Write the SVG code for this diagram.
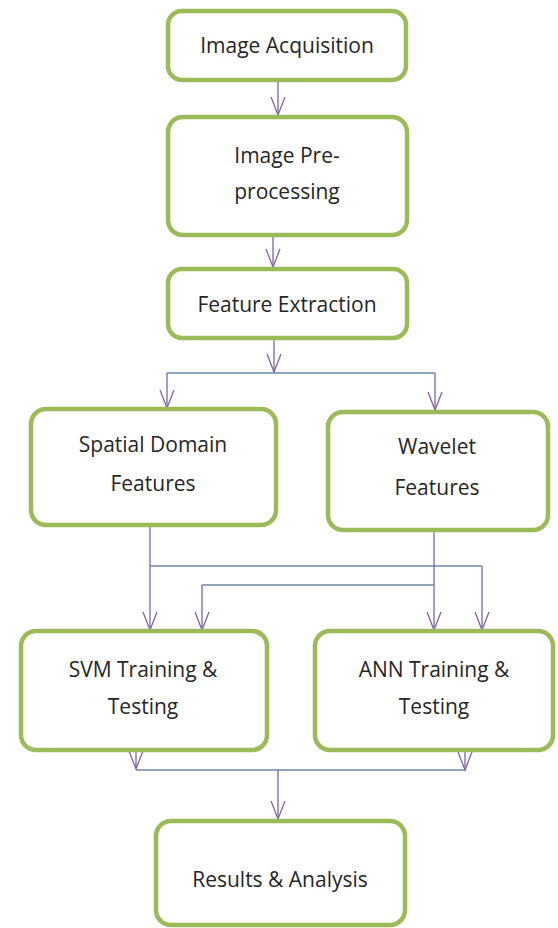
<svg xmlns="http://www.w3.org/2000/svg" width="558" height="928" viewBox="0 0 558 928">
  <style>
    .box { fill: #ffffff; stroke: #9bbb59; stroke-width: 4.5; }
    .lbl { font-family: "Open Sans", "Liberation Sans", sans-serif; font-size: 21px; fill: #262626; text-anchor: middle; }
    .v { stroke: #8064a2; stroke-width: 1.3; fill: none; }
    .h { stroke: #6f86a8; stroke-width: 1.3; fill: none; }
  </style>
  <defs>
    <!-- open "vee" arrowhead, drawn along +x so orient="auto" points it down the line -->
    <marker id="vee" viewBox="0 0 20 16" refX="19" refY="8" markerWidth="20" markerHeight="16" markerUnits="userSpaceOnUse" orient="auto">
      <path d="M1 1 L19 8 L1 15" fill="none" stroke="#8064a2" stroke-width="1.3"/>
    </marker>
  </defs>
  <rect width="558" height="928" fill="#ffffff"/>

  <g id="connectors">
    <line class="v" x1="278" y1="80" x2="278" y2="115" marker-end="url(#vee)"/>
    <line class="v" x1="273" y1="235" x2="273" y2="267" marker-end="url(#vee)"/>
    <line class="v" x1="274" y1="338" x2="274" y2="372" marker-end="url(#vee)"/>
    <line class="h" x1="167" y1="373" x2="435" y2="373"/>
    <line class="v" x1="167" y1="373" x2="167" y2="408" marker-end="url(#vee)"/>
    <line class="v" x1="435" y1="373" x2="435" y2="410" marker-end="url(#vee)"/>

    <line class="v" x1="150" y1="525" x2="150" y2="630" marker-end="url(#vee)"/>
    <line class="h" x1="150" y1="566" x2="482" y2="566"/>
    <line class="v" x1="482" y1="566" x2="482" y2="630" marker-end="url(#vee)"/>
    <line class="v" x1="434" y1="530" x2="434" y2="630" marker-end="url(#vee)"/>
    <line class="h" x1="202" y1="585" x2="434" y2="585"/>
    <line class="v" x1="202" y1="585" x2="202" y2="630" marker-end="url(#vee)"/>

    <line class="v" x1="136" y1="750" x2="136" y2="769" marker-end="url(#vee)"/>
    <line class="v" x1="465" y1="750" x2="465" y2="770" marker-end="url(#vee)"/>
    <line class="h" x1="136" y1="770" x2="466" y2="770"/>
    <line class="v" x1="278" y1="770" x2="278" y2="819" marker-end="url(#vee)"/>
  </g>

  <g id="image-acquisition">
    <rect class="box" x="168" y="11" width="238" height="69" rx="14"/>
    <text class="lbl" x="287" y="53">Image Acquisition</text>
  </g>
  <g id="image-preprocessing">
    <rect class="box" x="168" y="117" width="239" height="118" rx="15"/>
    <text class="lbl" x="287" y="163">Image Pre-</text>
    <text class="lbl" x="287" y="199">processing</text>
  </g>
  <g id="feature-extraction">
    <rect class="box" x="168" y="269" width="239" height="69" rx="14"/>
    <text class="lbl" x="287" y="312">Feature Extraction</text>
  </g>
  <g id="spatial-domain-features">
    <rect class="box" x="31" y="409" width="245" height="116" rx="15"/>
    <text class="lbl" x="153" y="452">Spatial Domain</text>
    <text class="lbl" x="153" y="491">Features</text>
  </g>
  <g id="wavelet-features">
    <rect class="box" x="328" y="412" width="220" height="118" rx="15"/>
    <text class="lbl" x="437" y="454">Wavelet</text>
    <text class="lbl" x="437" y="495">Features</text>
  </g>
  <g id="svm-training-testing">
    <rect class="box" x="21" y="631" width="246" height="119" rx="15"/>
    <text class="lbl" x="143" y="677">SVM Training &amp;</text>
    <text class="lbl" x="143" y="714">Testing</text>
  </g>
  <g id="ann-training-testing">
    <rect class="box" x="315" y="631" width="238" height="119" rx="15"/>
    <text class="lbl" x="434" y="677">ANN Training &amp;</text>
    <text class="lbl" x="434" y="714">Testing</text>
  </g>
  <g id="results-analysis">
    <rect class="box" x="156" y="821" width="249" height="104" rx="15"/>
    <text class="lbl" x="280" y="887">Results &amp; Analysis</text>
  </g>
</svg>
